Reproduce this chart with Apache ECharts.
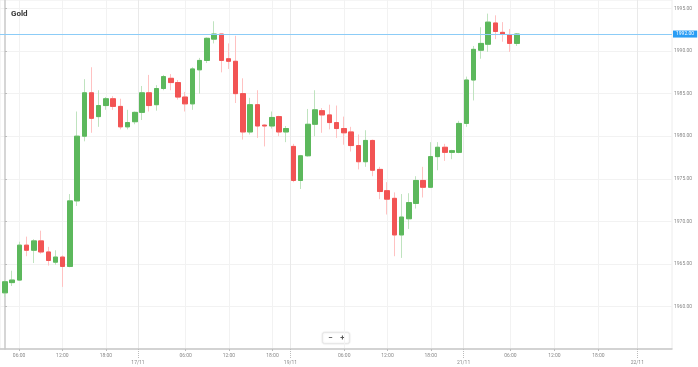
<!DOCTYPE html>
<html>
<head>
<meta charset="utf-8">
<script src="https://cdn.jsdelivr.net/npm/echarts@6/dist/echarts.min.js"></script>
<style>html,body{margin:0;padding:0;background:#fff}#c{width:698px;height:367px}</style>
</head>
<body>
<div id="c"></div>
<script>
// hourly candles, index = position on the hourly trading axis
const openV  = [1961.6,1962.8,1963.1,1967.2,1966.6,1967.7,1966.4,1965.2,1965.8,1964.7,1972.4,1980.0,1985.1,1982.3,1983.6,1984.4,1983.5,1981.1,1981.7,1982.8,1985.1,1983.7,1985.6,1986.8,1986.3,1984.6,1983.8,1987.8,1988.9,1991.4,1992.0,1989.1,1988.8,1985.0,1980.5,1983.7,1981.3,1981.2,1982.3,1980.5,1978.8,1974.8,1977.7,1981.4,1983.0,1982.5,1981.6,1980.9,1980.5,1978.9,1977.0,1979.5,1976.1,1973.6,1972.7,1968.4,1970.3,1972.1,1974.8,1974.0,1977.6,1978.7,1978.1,1978.1,1981.5,1986.6,1990.1,1990.8,1993.3,1992.2,1991.9,1990.9];
const closeV = [1962.9,1963.1,1967.2,1966.6,1967.7,1966.4,1965.4,1965.8,1964.7,1972.4,1980.0,1985.1,1982.1,1983.6,1984.4,1983.5,1981.1,1981.6,1982.8,1985.1,1983.6,1985.6,1987.0,1986.3,1984.6,1983.8,1987.9,1988.9,1991.5,1992.0,1988.9,1988.8,1985.0,1980.5,1983.7,1981.2,1981.2,1982.2,1980.5,1980.9,1974.8,1977.7,1981.4,1983.1,1982.5,1981.6,1980.9,1980.4,1978.9,1977.0,1979.5,1976.0,1973.5,1972.6,1968.4,1970.5,1972.2,1974.8,1974.0,1977.6,1978.7,1978.1,1978.3,1981.5,1986.6,1990.2,1990.9,1993.4,1992.3,1992.0,1990.9,1992.0];
const lowV   = [1961.1,1962.4,1963.0,1965.9,1965.1,1966.2,1964.8,1964.9,1962.3,1964.6,1971.8,1979.4,1980.4,1981.1,1983.1,1983.1,1980.8,1980.8,1981.4,1981.9,1982.9,1983.0,1985.4,1985.4,1984.3,1982.9,1983.1,1985.0,1988.6,1990.9,1987.5,1987.9,1983.9,1979.6,1980.2,1979.8,1978.8,1980.9,1980.0,1979.3,1974.6,1973.8,1977.6,1980.0,1980.4,1980.8,1979.8,1979.0,1978.2,1976.1,1976.4,1975.3,1972.6,1970.8,1965.9,1965.7,1969.1,1971.5,1972.8,1973.9,1976.0,1977.1,1977.3,1978.0,1981.1,1984.2,1989.1,1989.9,1991.4,1991.1,1989.9,1990.6];
const highV  = [1963.1,1964.2,1967.6,1968.2,1967.9,1968.9,1967.0,1966.6,1966.0,1973.2,1982.9,1986.7,1988.1,1985.4,1984.6,1984.7,1984.4,1983.1,1982.9,1985.9,1987.2,1986.0,1987.2,1987.3,1986.6,1985.2,1988.1,1989.2,1991.6,1993.5,1992.0,1990.9,1991.8,1986.8,1984.5,1985.4,1981.4,1982.9,1982.4,1981.2,1979.1,1977.8,1983.2,1985.4,1983.3,1983.7,1983.6,1982.3,1981.1,1980.2,1980.7,1979.6,1976.4,1974.6,1973.4,1973.2,1973.3,1975.3,1976.4,1979.3,1979.3,1979.1,1978.4,1981.8,1987.0,1990.6,1992.8,1994.4,1994.2,1993.4,1992.6,1992.1];

const timeTickPos    = [1.95, 7.95, 14.0, 25.05, 31.05, 37.1, 47.05, 53.05, 59.05, 70.1, 76.2, 82.3];
const timeTickLabels = ['06:00','12:00','18:00','06:00','12:00','18:00','06:00','12:00','18:00','06:00','12:00','18:00'];
const dateTickPos    = [18.45, 39.6, 63.6, 87.7];
const dateTickLabels = ['17/11','19/11','21/11','22/11'];
const yTickValues    = [1960, 1965, 1970, 1975, 1980, 1985, 1990, 1995];

const wickData = openV.map((o, i) => [i, o, closeV[i], lowV[i], highV[i]]);
const bodyData = openV.map((o, i) => [i, o, closeV[i], Math.min(o, closeV[i]), Math.max(o, closeV[i])]);
const lastClose = closeV[closeV.length - 1];

function lookup(pos, labels) {
  return function (v) {
    let best = 0, d = Infinity;
    pos.forEach((p, i) => { if (Math.abs(p - v) < d) { d = Math.abs(p - v); best = i; } });
    return labels[best];
  };
}

const XMIN = -0.693, XMAX = 92.51;
const FONT = 'Roboto';
const chart = echarts.init(document.getElementById('c'), null, {renderer: 'canvas'});
chart.setOption({
  animation: false,
  backgroundColor: '#fff',
  title: {text: 'Gold', left: 6, top: 5, textStyle: {fontSize: 8, fontWeight: 'bold', color: '#333', fontFamily: FONT}},
  grid: {left: 0, top: 0, width: 672, height: 349, show: true, borderColor: '#ececec', borderWidth: 1},
  xAxis: [{
    type: 'value', min: XMIN, max: XMAX, position: 'bottom',
    axisLine: {show: true, onZero: false, lineStyle: {color: '#c8c8c8', width: 1.5}},
    axisTick: {show: true, length: 2, customValues: timeTickPos, lineStyle: {color: '#bbb'}},
    axisLabel: {customValues: timeTickPos, formatter: lookup(timeTickPos, timeTickLabels), fontSize: 5, color: '#888', margin: 4, fontFamily: FONT},
    splitLine: {show: true, lineStyle: {color: '#f2f2f2', width: 1}}
  }, {
    type: 'value', min: XMIN, max: XMAX, position: 'bottom',
    axisLine: {show: false, onZero: false},
    axisTick: {show: true, length: 9, customValues: dateTickPos, lineStyle: {color: '#bbb', type: [1, 1]}},
    axisLabel: {customValues: dateTickPos, formatter: lookup(dateTickPos, dateTickLabels), fontSize: 5, color: '#888', margin: 11, fontFamily: FONT},
    splitLine: {show: true, lineStyle: {color: '#e9e9e9', width: 1}}
  }],
  yAxis: {
    type: 'value', position: 'right', min: 1955, max: 1996, scale: true,
    axisLine: {show: true, lineStyle: {color: '#c8c8c8', width: 1.5}},
    axisTick: {show: true, length: 2, customValues: yTickValues, lineStyle: {color: '#bbb'}},
    axisLabel: {customValues: yTickValues, formatter: v => v.toFixed(2), fontSize: 5, color: '#888', margin: 2, fontFamily: FONT},
    splitLine: {show: true, lineStyle: {color: '#f2f2f2'}}
  },
  graphic: [{
    type: 'group', left: 322, top: 332, children: [
      {type: 'rect', shape: {x: 0, y: 0, width: 27, height: 11, r: 2}, style: {fill: '#fff', stroke: '#e8e8e8', shadowBlur: 2, shadowColor: 'rgba(0,0,0,0.12)'}},
      {type: 'text', x: 8, y: 5.5, style: {text: '−', fontSize: 8, fill: '#555', align: 'center', verticalAlign: 'middle', fontFamily: FONT, fontWeight: 'bold'}},
      {type: 'text', x: 20, y: 5.5, style: {text: '+', fontSize: 8, fill: '#555', align: 'center', verticalAlign: 'middle', fontFamily: FONT, fontWeight: 'bold'}}
    ]
  }],
  series: [{
    type: 'candlestick', name: 'wick', xAxisIndex: 0, data: wickData,
    encode: {x: 0, y: [1, 2, 3, 4]}, barWidth: 5,
    itemStyle: {color: 'rgba(0,0,0,0)', color0: 'rgba(0,0,0,0)', borderColor: '#bfe3bf', borderColor0: '#ffc2c2', borderWidth: 1},
    silent: true
  }, {
    type: 'candlestick', name: 'Gold', xAxisIndex: 0, data: bodyData,
    encode: {x: 0, y: [1, 2, 3, 4]}, barWidth: 5,
    itemStyle: {color: '#5cb85c', color0: '#f25454', borderColor: '#5cb85c', borderColor0: '#f25454', borderWidth: 1},
    markLine: {
      silent: true, symbol: ['none', 'none'],
      lineStyle: {color: '#8cccf7', width: 1, type: 'solid'},
      label: {position: 'end', distance: 1, formatter: p => p.value.toFixed(2), fontSize: 5, color: '#fff', backgroundColor: '#2a9df4', padding: [1, 3], fontFamily: FONT},
      data: [{yAxis: lastClose}]
    }
  }]
});
</script>
</body>
</html>
